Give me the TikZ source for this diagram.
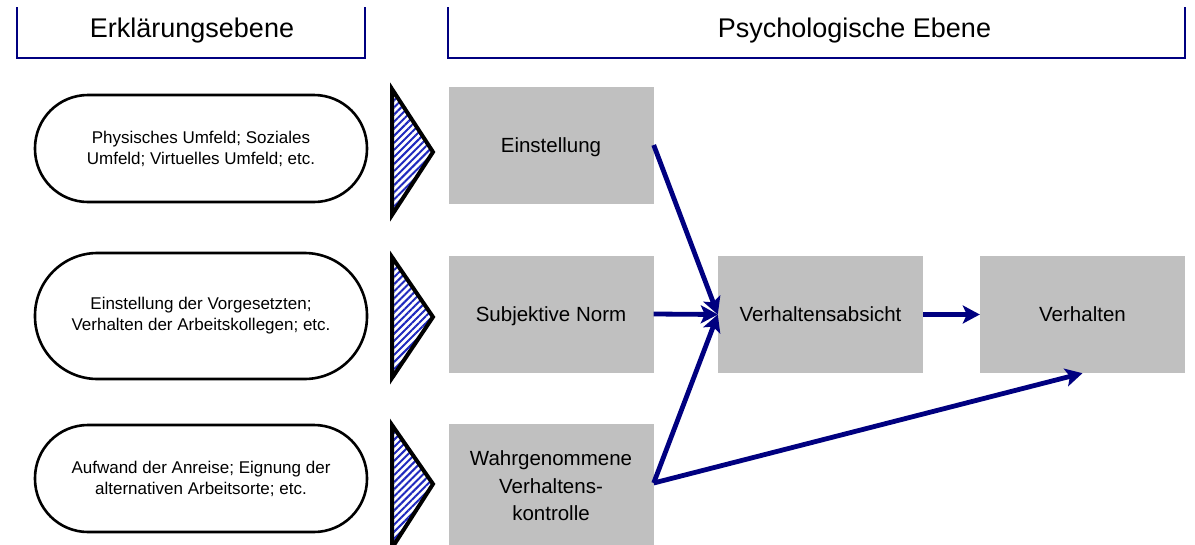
\documentclass[tikz,border=0pt]{standalone}
\usepackage{fontspec}
\setmainfont{Liberation Sans}
\usetikzlibrary{arrows.meta,patterns.meta}
\definecolor{navy}{RGB}{0,0,128}
\definecolor{boxgray}{RGB}{192,192,192}
\definecolor{hatch}{RGB}{30,40,190}
\begin{document}
\begin{tikzpicture}[x=1pt,y=-1pt,
  hdr/.style={draw=navy,line width=2.5pt},
  hdrtext/.style={font=\fontsize{27}{32}\selectfont,inner sep=0pt},
  pill/.style={draw=black,line width=2.6pt,fill=white,
    minimum width=332pt,align=center,font=\fontsize{17}{21}\selectfont},
  gbox/.style={fill=boxgray,minimum width=205pt,minimum height=117pt,align=center,
    font=\fontsize{20.5}{27.5}\selectfont},
  wedge/.style={draw=black,line width=4pt,line join=miter,
    pattern={Lines[angle=45,distance=5pt,line width=2pt]},pattern color=hatch},
  arr/.style={draw=navy,line width=4.8pt,-{Stealth[length=17pt,width=18pt,inset=4pt]}}
]
\clip (0,0) rectangle (1195,544);
\fill[white] (0,0) rectangle (1195,544);

% headers
\node[hdrtext] (hl) at (192,31) {Erklärungsebene};
\node[hdrtext] (hr) at (854.5,31) {Psychologische Ebene};
\draw[hdr] (17,7) -- (17,58) -- (365,58) -- (365,7);
\draw[hdr] (448,7) -- (448,58) -- (1185,58) -- (1185,7);

% left pills
\node[pill,minimum height=107pt,rounded corners=53pt] (p1) at (201,148.5) {Physisches Umfeld; Soziales\\Umfeld; Virtuelles Umfeld; etc.};
\node[pill,minimum height=126pt,rounded corners=62.5pt] (p2) at (201,316) {Einstellung der Vorgesetzten;\\Verhalten der Arbeitskollegen; etc.};
\node[pill,minimum height=107pt,rounded corners=53pt] (p3) at (201,478.5) {Aufwand der Anreise; Eignung der\\alternativen Arbeitsorte; etc.};

% wedges
\draw[wedge] (392,89) -- (433,152) -- (392,215) -- cycle;
\draw[wedge] (392,257) -- (433,317) -- (392,378) -- cycle;
\draw[wedge] (392,425) -- (433,484) -- (392,548) -- cycle;

% boxes
\node[gbox,text depth=0pt] (ein) at (551,145) {Einstellung};
\node[gbox,text depth=0pt] (sn)  at (551,314) {Subjektive Norm};
\node[gbox,minimum height=124pt] (wk) at (551,486) {Wahrgenommene\\Verhaltens-\\kontrolle};
\node[gbox,text depth=0pt] (va)  at (820.5,314.5) {Verhaltensabsicht};
\node[gbox,text depth=0pt] (vh)  at (1082.5,314.5) {Verhalten};

% arrows
\draw[arr] (ein.east) -- (va.west);
\draw[arr] (sn.east) -- (va.west);
\draw[arr] (wk.east) ++(0,-3) coordinate (wkout) -- (va.west);
\draw[arr] (wkout) -- (vh.south);
\draw[arr] (va.east) -- (vh.west);
\end{tikzpicture}
\end{document}
